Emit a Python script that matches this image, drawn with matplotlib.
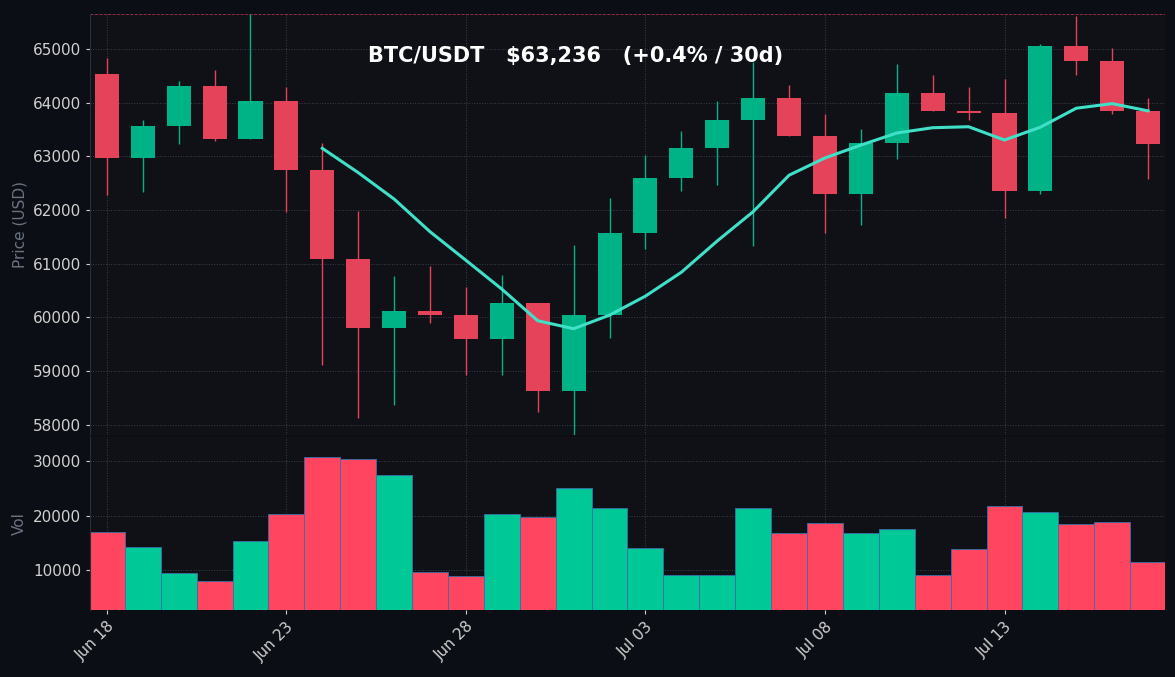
import numpy as np
import pandas as pd
import matplotlib
matplotlib.use("Agg")
import matplotlib.pyplot as plt
import matplotlib.dates as mdates

# ---- data ----
dates = pd.date_range("2024-06-18", periods=30, freq="D")
opens  = [64535,62970,63565,64310,63325,64030,62750,61090,59805,60120,60050,59600,60270,58630,60050,
          61575,62600,63160,63680,64090,63380,62300,63250,64180,63845,63810,62355,65055,64775,63845]
closes = [62970,63565,64310,63325,64030,62750,61090,59805,60120,60050,59600,60270,58630,60050,61575,
          62600,63160,63680,64090,63380,62300,63250,64180,63845,63810,62355,65055,64775,63845,63236]
highs  = [64830,63680,64400,64610,65650,64290,63250,61980,60770,60960,60570,60790,60270,61350,62225,
          63030,63475,64030,64760,64330,63790,63510,64720,64515,64290,64440,65090,65610,65020,64090]
lows   = [62280,62340,63230,63290,63325,61965,59120,58130,58370,59900,58930,58930,58240,57810,59620,
          61280,62355,62470,61330,63380,61575,61720,62950,63845,63680,61850,62300,64515,63790,62580]
vols   = [16970,14220,9450,7980,15320,20270,30730,30370,27430,9630,8900,20270,19720,25050,21380,
          14040,9080,9080,21380,16790,18620,16790,17520,9080,13850,21740,20640,18440,18810,11470]

UP, DOWN = "#00b386", "#e5435a"
VUP, VDOWN = "#00c896", "#ff4560"
BG, AXBG = "#0b0e14", "#0f1116"

x = mdates.date2num(dates)
o, c, h, l = map(np.array, (opens, closes, highs, lows))
up = c >= o
ma = pd.Series(closes).rolling(7).mean()

fig = plt.figure(figsize=(11.75, 6.77), dpi=100, facecolor=BG)
ax = fig.add_axes([90/1175, 1-435/677, 1075/1175, 421/677], facecolor=AXBG)
axv = fig.add_axes([90/1175, 1-610/677, 1075/1175, 173/677], facecolor=AXBG, sharex=ax)

# ---- candles ----
for i in range(len(x)):
    col = UP if up[i] else DOWN
    ax.vlines(x[i], l[i], h[i], color=col, lw=1, zorder=2)
    b = min(o[i], c[i]); hh = max(abs(c[i]-o[i]), 40)
    ax.bar(x[i], hh, bottom=b, width=0.67, color=col, zorder=3)
ax.plot(x, ma, color="#40e0c8", lw=2.2, zorder=4)
ax.axhline(max(highs), color=DOWN, ls="--", lw=0.6, alpha=0.7)
ax.axhline(min(lows), color=UP, ls="--", lw=0.6, alpha=0.7)

last = closes[-1]
chg = (closes[-1]-closes[0])/closes[0]*100
ax.text(0.452, 0.90, f"BTC/USDT   ${last:,}   ({chg:+.1f}% / 30d)", transform=ax.transAxes,
        ha="center", va="center", color="white", fontsize=15, fontweight="bold")

ax.set_ylim(min(lows), max(highs))
ax.set_xlim(x[0]-0.47, x[-1]+0.47)
ax.set_ylabel("Price (USD)", color="#6b7280", fontsize=11)
ax.tick_params(labelbottom=False, bottom=False, colors="#d0d0d0", labelsize=11, length=3)

# ---- volume ----
axv.bar(x, vols, width=1.0, color=[VUP if u else VDOWN for u in up], edgecolor="#3a6fa8", lw=0.6)
axv.set_ylim(2700, 34400)
axv.set_yticks([10000, 20000, 30000])
axv.set_ylabel("Vol", color="#6b7280", fontsize=11)
axv.tick_params(colors="#d0d0d0", labelsize=11, length=3)
axv.xaxis.set_major_locator(mdates.DayLocator(bymonthday=[3, 8, 13, 18, 23, 28]))
axv.xaxis.set_major_formatter(mdates.DateFormatter("%b %d"))
plt.setp(axv.get_xticklabels(), rotation=45, ha="right", rotation_mode="anchor")

for a in (ax, axv):
    a.grid(True, color="#3a3f4a", ls=":", lw=0.7)
    a.set_axisbelow(True)
    for s in a.spines.values():
        s.set_visible(False)
    a.spines["left"].set_visible(True)
    a.spines["left"].set_color("#2a2f3a")

fig.savefig("out.png", facecolor=BG)
